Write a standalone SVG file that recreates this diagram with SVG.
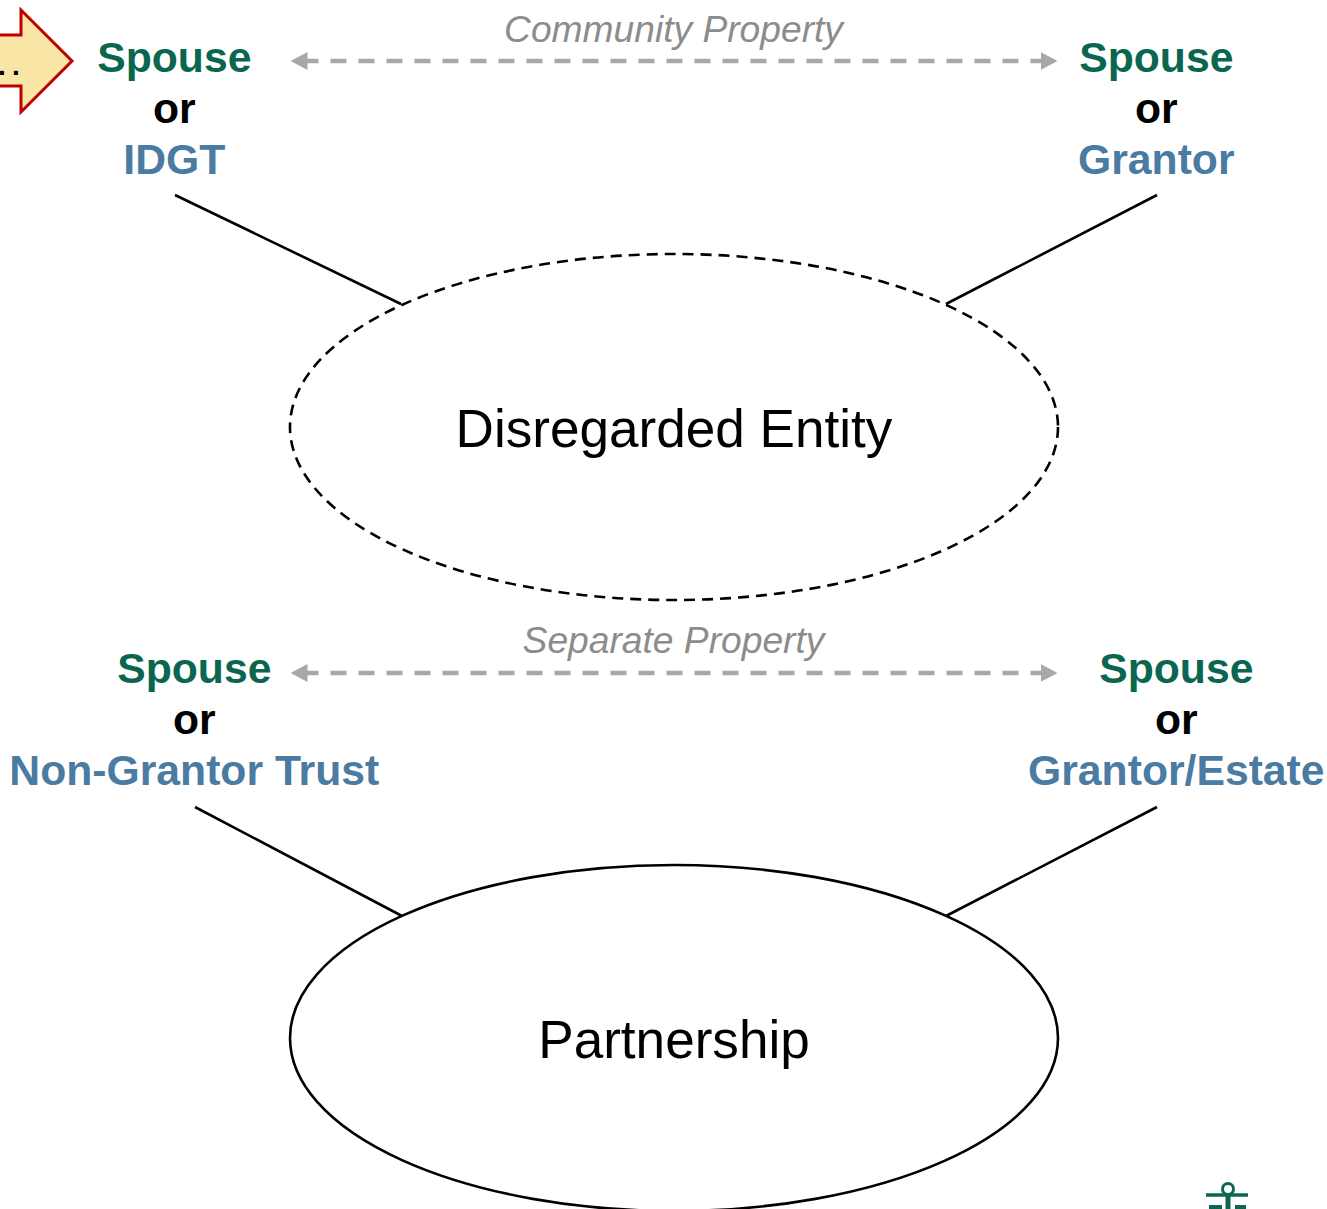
<svg xmlns="http://www.w3.org/2000/svg" width="1327" height="1209" viewBox="0 0 1327 1209">
<style>
text{font-family:"Liberation Sans",Arial,sans-serif;text-anchor:middle}
.l{font-size:42.7px;font-weight:700}
.g{fill:#0b6650}.k{fill:#000}.b{fill:#4a7ba2}
.p{font-size:37.2px;font-style:italic;fill:#8c8c8c}
.t{font-size:53.1px;fill:#000}
.c{fill:none;stroke:#000;stroke-width:2.6}
.d{fill:none;stroke:#a8a8a8;stroke-width:4.4;stroke-dasharray:16 12;stroke-dashoffset:16}
</style>
<defs>
<marker id="ah" viewBox="0 0 17 18" refX="17" refY="9" markerUnits="userSpaceOnUse" markerWidth="17" markerHeight="18" orient="auto-start-reverse"><path d="M0 0L17 9L0 18Z" fill="#a8a8a8"/></marker>
</defs>
<rect width="1327" height="1209" fill="#fff"/>
<g id="connectors">
<path class="c" d="M175 195L401 304"/>
<path class="c" d="M1157 195L946 304"/>
<path class="c" d="M195 807L402 916"/>
<path class="c" d="M1157 807L946 916"/>
<path class="d" d="M290.500 61H1057.500" marker-start="url(#ah)" marker-end="url(#ah)"/>
<path class="d" d="M290.500 673H1057.500" marker-start="url(#ah)" marker-end="url(#ah)"/>
</g>
<g id="arrow-node">
<path d="M-5 35H21V10L72 61L21 112V86H-5Z" fill="#f9e6a7" stroke="#c00000" stroke-width="3"/>
<text x="-2 12" y="75" font-size="28" font-weight="700" style="text-anchor:start">..</text>
</g>
<g id="label-community"><text class="p" x="673.500" y="42">Community Property</text></g>
<g id="label-separate"><text class="p" x="673.500" y="653">Separate Property</text></g>
<g id="spouse-idgt"><text class="l g" x="174.300" y="72">Spouse</text><text class="l k" x="174.300" y="123">or</text><text class="l b" x="174.300" y="174">IDGT</text></g>
<g id="spouse-grantor"><text class="l g" x="1156.300" y="72">Spouse</text><text class="l k" x="1156.300" y="123">or</text><text class="l b" x="1156.300" y="174">Grantor</text></g>
<g id="spouse-nongrantor"><text class="l g" x="194.300" y="683">Spouse</text><text class="l k" x="194.300" y="734">or</text><text class="l b" x="194.300" y="785">Non-Grantor Trust</text></g>
<g id="spouse-estate"><text class="l g" x="1176.300" y="683">Spouse</text><text class="l k" x="1176.300" y="734">or</text><text class="l b" x="1176.300" y="785">Grantor/Estate</text></g>
<g id="disregarded-entity">
<ellipse cx="674" cy="427" rx="384" ry="173" fill="#fff" stroke="#000" stroke-width="2.6" stroke-dasharray="11 7"/>
<text class="t" x="674" y="446.500">Disregarded Entity</text>
</g>
<g id="partnership">
<ellipse cx="674" cy="1038" rx="384" ry="173" fill="#fff" stroke="#000" stroke-width="2.6"/>
<text class="t" x="674" y="1057.500">Partnership</text>
</g>
<g id="logo" fill="none" stroke="#0b6650">
<circle cx="1228" cy="1189" r="5.5" stroke-width="3"/>
<path d="M1206 1195H1248" stroke-width="3.5"/>
<path d="M1228 1195V1209" stroke-width="5"/>
<path d="M1209 1207H1222M1235 1207H1246" stroke-width="4"/>
</g>
</svg>
